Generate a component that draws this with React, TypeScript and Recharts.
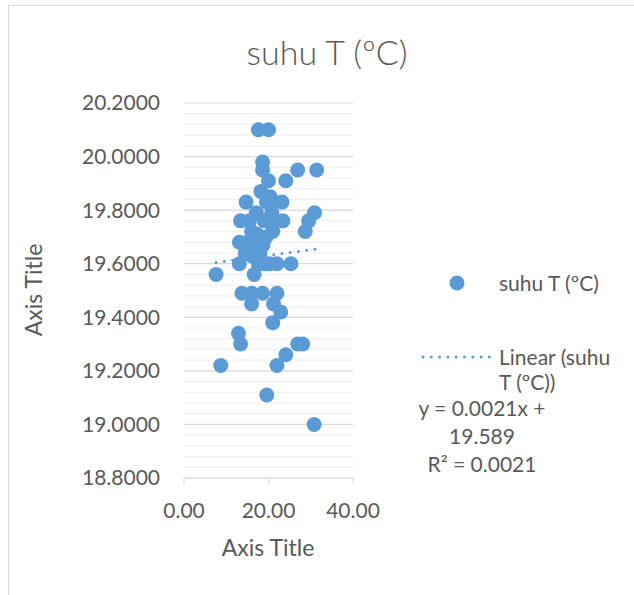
import React from 'react';
import { ScatterChart, Scatter, XAxis, YAxis, CartesianGrid, ReferenceLine, Legend } from 'recharts';

// readings
const xValues = [
	17.6, 20.0, 18.6, 18.6, 20.0, 24.1, 26.9, 31.4, 18.2, 14.7,
	21.2, 23.2, 17.1, 20.8, 30.9, 13.4, 23.4, 29.5, 21.0, 28.7,
	13.1, 14.5, 18.0, 13.1, 17.6, 20.2, 22.0, 25.3, 7.6, 16.6,
	13.7, 16.0, 18.6, 22.0, 16.0, 21.2, 22.9, 21.0, 12.9, 13.4,
	26.9, 28.1, 24.1, 8.7, 22.0, 19.6, 30.8, 21.6, 16.0, 17.6,
	17.3, 18.7, 19.0, 17.2, 16.0, 19.4, 15.5, 19.5, 15.0, 19.0,
	20.4,
];
const yValues = [
	20.1, 20.1, 19.98, 19.95, 19.91, 19.91, 19.95, 19.95, 19.87, 19.83,
	19.83, 19.83, 19.79, 19.79, 19.79, 19.76, 19.76, 19.76, 19.72, 19.72,
	19.68, 19.64, 19.64, 19.6, 19.6, 19.6, 19.6, 19.6, 19.56, 19.56,
	19.49, 19.49, 19.49, 19.49, 19.45, 19.45, 19.42, 19.38, 19.34, 19.3,
	19.3, 19.3, 19.26, 19.22, 19.22, 19.11, 19.0, 19.76, 19.72, 19.68,
	19.71, 19.67, 19.76, 19.66, 19.63, 19.7, 19.76, 19.83, 19.68, 19.6,
	19.85,
];
const trendX = [7.6, 31.4];
const trendY = [19.605, 19.655];

const yTicks = [18.8, 19.0, 19.2, 19.4, 19.6, 19.8, 20.0, 20.2];
const yMinorTicks = [
	18.84, 18.88, 18.92, 18.96, 19.04, 19.08, 19.12, 19.16, 19.24, 19.28, 19.32, 19.36,
	19.44, 19.48, 19.52, 19.56, 19.64, 19.68, 19.72, 19.76, 19.84, 19.88, 19.92, 19.96,
	20.04, 20.08, 20.12, 20.16,
];
const xTicks = [0, 20, 40];

const chartTitle = 'suhu T (ºC)';
const seriesName = 'suhu T (ºC)';
const axisTitle = 'Axis Title';
const equationLines = ['y = 0.0021x +', '19.589', 'R² = 0.0021'];

const points = xValues.map((x, i) => ({ x, y: yValues[i] }));
const trend = trendX.map((x, i) => ({ x, y: trendY[i] }));

const BLUE = '#5b9bd5';
const TEXT = '#595959';
const FONT = 'Lato, sans-serif';

const Dot = (props: any) => <circle cx={props.cx} cy={props.cy} r={7.5} fill={BLUE} />;
const NoDot = () => <g />;

function LegendBox() {
	return (
		<div style={{ fontFamily: FONT, fontSize: 21, color: TEXT, position: 'relative', width: 220, height: 130 }}>
			<svg width={16} height={16} style={{ position: 'absolute', left: 31, top: 7 }}>
				<circle cx={8} cy={8} r={7.5} fill={BLUE} />
			</svg>
			<div style={{ position: 'absolute', left: 81, top: 2, lineHeight: '25px', whiteSpace: 'nowrap' }}>{seriesName}</div>
			<svg width={74} height={6} style={{ position: 'absolute', left: 3, top: 86 }}>
				<line x1={2} y1={3} x2={72} y2={3} stroke={BLUE} strokeWidth={3} strokeDasharray="0 8.3" strokeLinecap="round" />
			</svg>
			<div style={{ position: 'absolute', left: 81, top: 76, lineHeight: '25px', width: 136 }}>
				Linear (suhu
				<br />
				T (ºC))
			</div>
		</div>
	);
}

export default function App() {
	return (
		<div style={{ position: 'fixed', left: 0, top: 0, width: 634, height: 595, overflow: 'hidden', background: '#fff', fontFamily: FONT }}>
			<div style={{ position: 'absolute', left: 8, top: 5, width: 700, height: 700, borderLeft: '1px solid #d9d9d9', borderTop: '1px solid #d9d9d9' }} />
			<div style={{ position: 'absolute', left: 0, top: 0 }}>
				<ScatterChart width={634} height={595} margin={{ top: 103, right: 281, bottom: 87, left: 84 }}>
					{yMinorTicks.map((v) => (
						<ReferenceLine key={v} y={v} stroke="#f0f0f0" strokeWidth={1.2} />
					))}
					<CartesianGrid vertical={false} stroke="#d9d9d9" strokeWidth={1.2} />
					<XAxis
						type="number"
						dataKey="x"
						domain={[0, 40]}
						ticks={xTicks}
						tickFormatter={(v: number) => v.toFixed(2)}
						height={30}
						stroke="#d9d9d9"
						tickSize={7}
						tickMargin={18}
						tick={{ fill: TEXT, fontSize: 21, fontFamily: FONT }}
					/>
					<YAxis
						type="number"
						dataKey="y"
						domain={[18.8, 20.2]}
						ticks={yTicks}
						tickFormatter={(v: number) => v.toFixed(4)}
						width={100}
						axisLine={false}
						tickLine={false}
						tickSize={0}
						tickMargin={24}
						tick={{ fill: TEXT, fontSize: 21, fontFamily: FONT }}
					/>
					<Scatter data={points} fill={BLUE} shape={Dot} isAnimationActive={false} name={seriesName} />
					<Scatter
						data={trend}
						fill={BLUE}
						shape={NoDot}
						line={{ stroke: BLUE, strokeWidth: 3, strokeDasharray: '0 8.3', strokeLinecap: 'round' }}
						isAnimationActive={false}
						legendType="none"
					/>
					<Legend
						layout="horizontal"
						verticalAlign="middle"
						align="center"
						content={() => <LegendBox />}
						wrapperStyle={{ left: 418, top: 268, width: 220, height: 130 }}
					/>
				</ScatterChart>
			</div>
			<div style={{ position: 'absolute', left: 0, width: 654, top: 31, textAlign: 'center', fontSize: 34, fontWeight: 300, color: TEXT, lineHeight: '42px' }}>
				{chartTitle}
			</div>
			<div
				style={{
					position: 'absolute',
					left: 33,
					top: 290,
					transform: 'translate(-50%, -50%) rotate(-90deg)',
					fontSize: 23,
					color: TEXT,
					whiteSpace: 'nowrap',
				}}
			>
				{axisTitle}
			</div>
			<div style={{ position: 'absolute', left: 168, width: 200, top: 533, textAlign: 'center', fontSize: 23, color: TEXT, lineHeight: '28px' }}>
				{axisTitle}
			</div>
			<div style={{ position: 'absolute', left: 382, width: 200, top: 394, textAlign: 'center', fontSize: 21, color: TEXT, lineHeight: '28px' }}>
				{equationLines.map((t) => (
					<div key={t}>{t}</div>
				))}
			</div>
		</div>
	);
}
